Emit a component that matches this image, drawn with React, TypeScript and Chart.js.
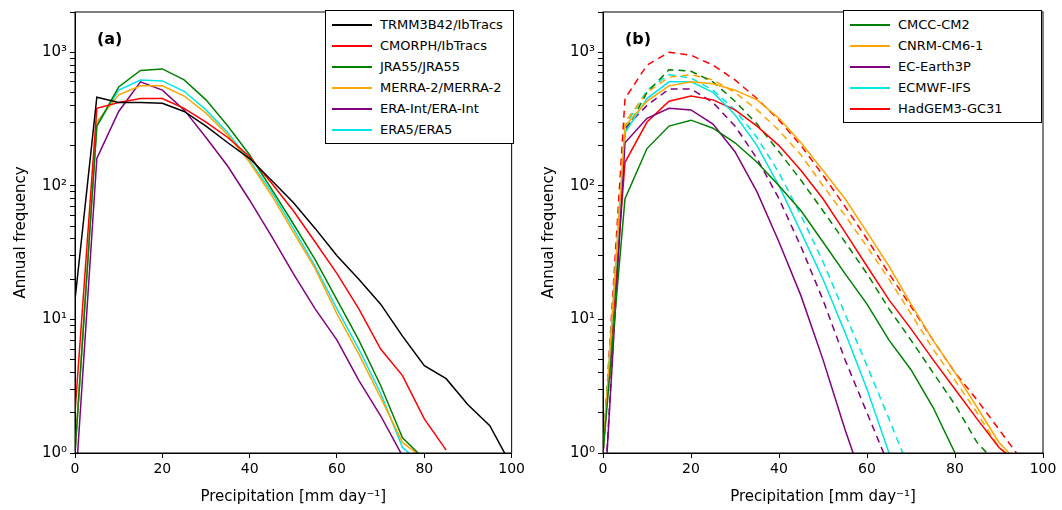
import { useEffect, useRef } from 'react'
import Chart from 'chart.js/auto'

const xs = [0, 5, 10, 15, 20, 25, 30, 35, 40, 45, 50, 55, 60, 65, 70, 75, 80, 85, 90, 95, 100]

// panel (a): observations / reanalyses
const trmm = [14, 460, 420, 420, 415, 360, 280, 210, 160, 110, 75, 48, 30, 20, 13, 7.5, 4.5, 3.6, 2.3, 1.6, 0.8]
const cmorph = [2, 380, 420, 450, 450, 380, 300, 230, 165, 105, 65, 38, 22, 12, 6, 3.8, 1.8, 1.05]
const jra55 = [1, 280, 550, 730, 750, 620, 440, 280, 170, 95, 52, 28, 14, 7, 3.2, 1.3, 0.9]
const merra2 = [1, 300, 480, 560, 560, 470, 350, 240, 150, 85, 45, 24, 11, 5.5, 2.6, 1.2, 0.9]
const eraInt = [0.5, 160, 360, 600, 520, 370, 230, 140, 78, 42, 22, 12, 7, 3.5, 1.9, 0.95]
const era5 = [1, 280, 520, 620, 610, 510, 370, 250, 155, 90, 48, 25, 12, 6, 2.8, 1.1, 0.8]

// panel (b): models, solid and dashed runs
const cmccA = [1, 80, 190, 280, 310, 270, 210, 150, 100, 65, 38, 22, 13, 7, 4.2, 2.2, 1]
const cmccB = [1, 250, 500, 740, 720, 600, 430, 290, 180, 110, 65, 38, 22, 12, 7, 4, 2.3, 1.2, 0.8]
const cnrmA = [1, 280, 430, 560, 600, 580, 520, 440, 320, 210, 130, 80, 45, 25, 13, 7, 4, 2.2, 1.2, 0.8]
const cnrmB = [1, 300, 500, 650, 680, 620, 500, 370, 260, 170, 100, 60, 35, 20, 11, 6, 3.5, 2, 1.1, 0.8]
const ecEarthA = [0.3, 210, 320, 380, 370, 290, 180, 90, 38, 15, 5, 1.5, 0.5]
const ecEarthB = [0.3, 270, 400, 530, 530, 420, 280, 160, 80, 35, 14, 5, 2, 0.8]
const ecmwfA = [1, 250, 450, 600, 600, 500, 340, 200, 100, 45, 20, 8, 3, 1, 0.6]
const ecmwfB = [1, 280, 520, 680, 640, 520, 370, 230, 125, 60, 27, 11, 4.5, 1.8, 0.7]
const hadA = [1, 150, 300, 430, 470, 440, 370, 280, 200, 130, 80, 45, 25, 14, 8.5, 5, 3, 1.8, 1.1, 0.8]
const hadB = [1, 450, 800, 1000, 950, 800, 620, 450, 310, 200, 120, 70, 40, 22, 12.5, 7, 4, 2.5, 1.5, 0.9]

const FONT = "'DejaVu Sans', sans-serif"

type Series = { label: string; values: number[]; color: string; dashed?: boolean; legend?: boolean }

const seriesA: Series[] = [
  { label: 'TRMM3B42/IbTracs', values: trmm, color: '#000000' },
  { label: 'CMORPH/IbTracs', values: cmorph, color: '#ff0000' },
  { label: 'JRA55/JRA55', values: jra55, color: '#008000' },
  { label: 'MERRA-2/MERRA-2', values: merra2, color: '#ffa500' },
  { label: 'ERA-Int/ERA-Int', values: eraInt, color: '#800080' },
  { label: 'ERA5/ERA5', values: era5, color: '#00e5e5' },
]

const seriesB: Series[] = [
  { label: 'CMCC-CM2', values: cmccA, color: '#008000' },
  { label: 'CNRM-CM6-1', values: cnrmA, color: '#ffa500' },
  { label: 'EC-Earth3P', values: ecEarthA, color: '#800080' },
  { label: 'ECMWF-IFS', values: ecmwfA, color: '#00e5e5' },
  { label: 'HadGEM3-GC31', values: hadA, color: '#ff0000' },
  { label: 'CMCC-CM2 b', values: cmccB, color: '#008000', dashed: true, legend: false },
  { label: 'CNRM-CM6-1 b', values: cnrmB, color: '#ffa500', dashed: true, legend: false },
  { label: 'EC-Earth3P b', values: ecEarthB, color: '#800080', dashed: true, legend: false },
  { label: 'ECMWF-IFS b', values: ecmwfB, color: '#00e5e5', dashed: true, legend: false },
  { label: 'HadGEM3-GC31 b', values: hadB, color: '#ff0000', dashed: true, legend: false },
]

const sup: Record<number, string> = { 1: '10⁰', 10: '10¹', 100: '10²', 1000: '10³' }

const boxPlugin = {
  id: 'box',
  afterDraw(chart: any) {
    const { ctx, chartArea: a } = chart
    ctx.save()
    ctx.strokeStyle = '#000'
    ctx.lineWidth = 1
    ctx.strokeRect(a.left, a.top, a.right - a.left, a.bottom - a.top)
    ctx.restore()
  },
}

function Panel({ series, width, padRight }: { series: Series[]; width: number; padRight: number }) {
  const ref = useRef<HTMLCanvasElement>(null)
  useEffect(() => {
    if (!ref.current) return
    const chart = new Chart(ref.current, {
      type: 'line',
      plugins: [boxPlugin],
      data: {
        datasets: series.map((s) => ({
          label: s.label,
          data: s.values.map((v, i) => ({ x: xs[i], y: v })),
          borderColor: s.color,
          borderWidth: 1.5,
          borderDash: s.dashed ? [7, 5] : [],
          pointRadius: 0,
          fill: false,
          tension: 0,
        })),
      },
      options: {
        animation: false,
        responsive: false,
        layout: { padding: { top: 8, right: padRight, left: 8, bottom: 0 } },
        plugins: { legend: { display: false }, tooltip: { enabled: false } },
        scales: {
          x: {
            type: 'linear',
            min: 0,
            max: 100,
            ticks: { stepSize: 20, color: '#000', font: { family: FONT, size: 14 } },
            grid: { drawOnChartArea: false, color: '#000', tickLength: 5 },
            border: { color: '#000' },
            title: { display: true, text: 'Precipitation [mm day⁻¹]', color: '#000', font: { family: FONT, size: 15 } },
            afterFit: (s: any) => { s.height = 57 },
          },
          y: {
            type: 'logarithmic',
            min: 1,
            max: 2000,
            afterBuildTicks: (s: any) => {
              const t: any[] = []
              for (let d = 1; d <= 1000; d *= 10)
                for (let m = 1; m <= 9; m++) if (d * m <= 2000) t.push({ value: d * m })
              s.ticks = t
            },
            ticks: {
              autoSkip: false,
              color: '#000',
              font: { family: FONT, size: 15 },
              callback: (v: any) => sup[Number(v)] ?? '',
            },
            grid: { drawOnChartArea: false, color: '#000', tickLength: 5 },
            border: { color: '#000' },
            title: { display: true, text: 'Annual frequency', color: '#000', font: { family: FONT, size: 15 } },
            afterFit: (s: any) => { s.width = 67 },
          },
        },
      },
    })
    return () => chart.destroy()
  }, [series, padRight])
  return <canvas ref={ref} width={width} height={510} />
}

function Legend({ series, left, width }: { series: Series[]; left: number; width: number }) {
  return (
    <div style={{ position: 'absolute', top: 10, left, width, border: '1px solid #000', background: '#fff', padding: '3px 0 3px 6px', boxSizing: 'border-box', fontFamily: FONT, fontSize: 13 }}>
      {series.filter((s) => s.legend !== false).map((s) => (
        <div key={s.label} style={{ display: 'flex', alignItems: 'center', height: 21 }}>
          <span style={{ display: 'inline-block', width: 40, height: 2, background: s.color, marginRight: 8 }} />
          {s.label}
        </div>
      ))}
    </div>
  )
}

export default function App() {
  return (
    <div style={{ position: 'fixed', left: 0, top: 0, width: 1062, height: 510, background: '#fff' }}>
      <div style={{ position: 'absolute', left: 0, top: 0 }}>
        <Panel series={seriesA} width={528} padRight={13} />
      </div>
      <div style={{ position: 'absolute', left: 528, top: 0 }}>
        <Panel series={seriesB} width={534} padRight={19} />
      </div>
      <div style={{ position: 'absolute', left: 97, top: 29, fontFamily: FONT, fontWeight: 'bold', fontSize: 16 }}>(a)</div>
      <div style={{ position: 'absolute', left: 625, top: 29, fontFamily: FONT, fontWeight: 'bold', fontSize: 16 }}>(b)</div>
      <Legend series={seriesA} left={325} width={189} />
      <Legend series={seriesB} left={843} width={199} />
    </div>
  )
}
